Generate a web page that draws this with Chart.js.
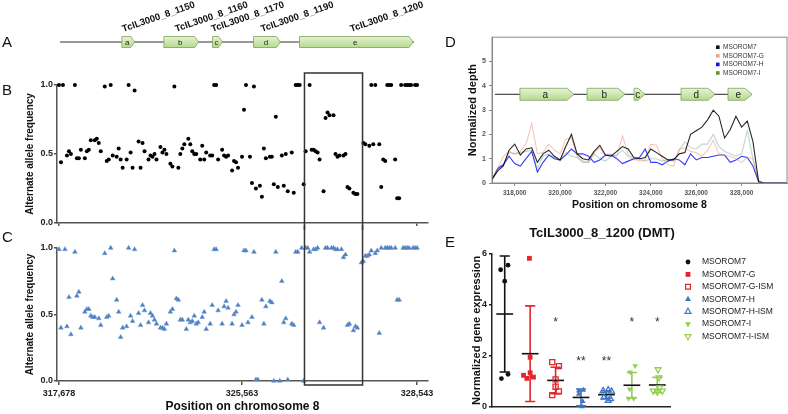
<!DOCTYPE html>
<html lang="en">
<head>
<meta charset="UTF-8">
<title>TcIL3000 chromosome 8</title>
<script src="https://cdn.jsdelivr.net/npm/chart.js"></script>
<style>
  body { margin: 0; background: #fff; }
  #fig { position: relative; width: 788px; height: 414px; overflow: hidden; font-family: 'Liberation Sans', Arial, sans-serif; }
  #fig canvas { position: absolute; }
  .lbl { position: absolute; font-size: 15px; color: #111; line-height: 17px; }
</style>
</head>
<body>
<div id="fig">
  <canvas id="chartA" width="440" height="60" style="left:0;top:0"></canvas>
  <canvas id="chartC" width="440" height="189" style="left:0;top:225px"></canvas>
  <canvas id="chartB" width="440" height="170" style="left:0;top:60px"></canvas>
  <canvas id="chartD" width="348" height="184" style="left:440px;top:30px"></canvas>
  <canvas id="chartE" width="348" height="194" style="left:440px;top:220px"></canvas>
  <div class="lbl" style="left:2px;top:33px">A</div>
  <div class="lbl" style="left:2px;top:81px">B</div>
  <div class="lbl" style="left:2px;top:228px">C</div>
  <div class="lbl" style="left:445px;top:33px">D</div>
  <div class="lbl" style="left:445px;top:233px">E</div>
</div>

<script>
// ---- genes ----
const geneNames = ['TcIL3000_8_1150', 'TcIL3000_8_1160', 'TcIL3000_8_1170', 'TcIL3000_8_1190', 'TcIL3000_8_1200'];
const geneLetters = ['a', 'b', 'c', 'd', 'e'];
// panel A schematic, in the SNP-rank units of panels B and C
const aGeneStart = [31.6, 52.7, 77.2, 97.8, 120.9];
const aGeneEnd = [38.1, 70.2, 82.2, 111.3, 178.0];
const aLineSpan = [0.5, 178.5];
// panel D, bp
const dGeneStart = [318230, 321190, 323260, 325330, 327400];
const dGeneEnd = [320610, 322860, 323740, 326830, 328460];
const dLineSpan = [317130, 328460];

// ---- panels B / C: SNPs ranked along the region ----
const rankMin = -1, rankMax = 185.5;
const cTickRanks = [0, 92, 180];
const cTickLabels = ['317,678', '325,563', '328,543'];
const freqTicks = [0, 0.5, 1];
const boxRanks = [123.4, 152.6];

const bRank = [0,2,1,4,5,6,8,9,10,11,13,14,15,16,18,19,20,21,23,24,25,26,27,29,30,31,32,34,35,36,
  37,38,40,41,42,43,45,46,47,48,49,51,52,53,54,56,57,58,60,61,62,63,65,66,67,68,69,71,72,73,
  74,76,77,78,79,80,82,83,84,85,87,88,89,90,92,93,94,96,97,98,99,101,102,103,104,106,107,108,109,110,
  112,113,114,115,117,118,119,120,121,123,124,126,127,128,129,130,131,133,134,135,136,138,139,140,141,143,144,145,146,148,
  149,150,153,154,156,157,158,159,161,162,163,164,165,166,167,169,170,171,172,174,175,176,177,179,180];
const bFreq = [1.0,1.0,0.44,0.49,0.52,0.5,1.0,0.47,0.47,0.53,0.47,0.52,0.53,0.6,0.6,0.61,0.58,0.52,0.99,0.45,0.46,1.0,0.49,0.48,0.54,0.46,0.4,0.46,1.0,0.51,
  0.4,0.96,0.59,0.4,0.58,0.52,0.46,0.49,0.48,0.5,0.46,0.55,0.51,0.53,0.5,0.43,0.41,0.99,0.4,0.5,0.54,0.57,0.61,0.57,0.52,0.5,0.5,0.46,0.56,0.46,
  0.51,0.49,0.49,1.0,1.0,0.46,0.53,0.49,0.48,0.49,0.38,0.45,0.44,0.4,0.48,0.82,1.0,0.48,0.29,0.99,0.25,0.27,0.19,0.54,0.47,0.48,0.48,0.28,0.77,0.26,
  0.49,0.27,0.5,0.23,0.51,0.22,1.0,1.0,1.0,0.28,0.52,1.0,0.53,0.53,0.52,0.51,0.46,0.23,0.76,0.8,0.78,0.78,0.5,0.48,0.49,0.49,0.5,0.26,0.25,0.22,
  0.21,0.21,0.58,0.57,0.56,1.0,0.57,1.0,0.57,0.26,0.46,0.45,1.0,1.0,1.0,0.46,0.18,0.18,1.0,1.0,1.0,1.0,1.0,1.0,1.0];

const cRank = [0,1,3,4,5,6,8,9,10,11,13,14,15,16,17,18,20,21,23,24,25,26,27,29,30,31,32,34,35,36,
  37,38,40,41,42,43,45,46,47,48,49,51,52,53,54,56,57,58,59,60,61,62,64,65,66,67,68,69,70,72,
  73,74,76,77,78,79,80,82,83,84,85,87,88,89,90,92,93,94,95,97,98,99,100,102,103,104,106,107,108,109,
  111,112,113,114,115,117,118,119,120,122,123,124,125,126,128,129,130,131,133,134,135,137,138,139,140,142,143,144,145,146,
  148,149,150,152,153,154,155,156,157,159,160,161,162,164,165,166,167,169,170,171,173,174,175,176,178,179,180];
const cFreq = [0.99,0.4,0.99,0.41,0.63,0.35,0.97,0.64,0.67,0.4,0.52,0.54,0.54,0.49,0.48,0.48,0.47,0.42,0.96,0.48,0.49,1.0,0.77,0.61,0.52,0.33,0.4,0.41,1.0,0.49,
  0.45,0.99,0.51,0.42,0.57,0.53,0.44,0.51,0.49,0.46,0.43,0.4,0.4,0.39,0.43,0.52,0.54,0.98,0.62,0.61,0.46,0.46,0.39,0.46,0.44,0.45,0.49,0.43,0.44,0.48,
  0.52,0.39,0.43,0.57,0.99,0.99,0.53,0.43,0.56,0.6,0.55,0.43,0.5,0.52,0.57,0.42,0.98,0.98,0.44,0.48,0.97,0.01,0.01,0.61,0.43,0.56,0.6,0.59,0.0,0.97,
  0.0,0.75,0.44,0.47,0.01,0.43,0.42,0.97,0.97,1.0,0.0,1.0,1.0,0.97,0.99,0.99,1.0,0.44,0.4,1.0,1.0,1.0,1.0,0.99,0.99,0.99,0.93,0.95,0.42,0.43,
  0.38,0.41,0.4,0.89,0.9,0.94,0.94,0.95,0.98,0.96,0.98,0.36,1.0,1.0,1.0,1.0,1.0,1.0,0.61,0.61,1.0,1.0,1.0,1.0,1.0,1.0,1.0];

// ---- panel D: normalised read depth ----
const dNames = ['MSOROM7', 'MSOROM7-G', 'MSOROM7-H', 'MSOROM7-I'];
const dPos = [317000,317250,317500,317750,318000,318250,318500,318750,319000,319250,
  319500,319750,320000,320250,320500,320750,321000,321250,321500,321750,
  322000,322250,322500,322750,323000,323250,323500,323750,324000,324250,
  324500,324750,325000,325250,325500,325750,326000,326250,326500,326750,
  327000,327250,327500,327750,328000,328250,328500,328750,329000,330000];
const dBlack = [0.15,0.5,0.7,1.35,1.6,1.15,1.4,1.45,0.85,1.2, 1.35,1.1,0.95,1.5,2.0,1.2,1.0,0.95,1.3,1.55,
  1.15,1.1,1.3,1.5,1.4,1.05,1.0,1.05,1.4,1.25, 1.1,0.95,0.95,1.2,1.25,2.0,2.15,2.3,2.6,3.0,
  2.75,1.85,2.2,2.75,2.3,2.55,1.7,0.05,0,0];
const dG = [0.15,0.6,1.1,1.3,1.2,1.3,1.6,2.45,1.2,1.25, 1.6,1.35,1.2,1.8,1.85,1.1,0.9,0.85,1.25,1.45,
  1.1,1.2,1.1,1.95,1.2,1.0,0.9,0.95,1.6,1.55, 1.0,0.75,0.7,1.4,1.45,1.3,1.25,1.1,1.35,1.75,
  1.2,1.15,1.1,1.0,0.85,1.05,1.0,0.1,0,0];
const dH = [0.15,0.6,0.75,1.1,0.8,0.7,1.0,1.3,0.45,0.85, 1.15,1.0,0.95,1.15,1.4,1.2,1.2,1.1,0.85,0.95,
  1.15,1.15,1.0,0.8,0.9,1.0,1.05,1.4,0.85,0.85, 0.75,0.9,1.0,0.95,0.75,1.2,0.95,1.05,1.05,1.1,
  1.15,1.15,0.85,0.95,1.1,1.05,0.7,0.05,0,0];
const dI = [0.15,0.55,0.8,1.25,1.2,1.25,1.3,1.35,0.6,1.1, 1.2,1.05,0.9,1.25,1.1,1.05,0.85,0.85,1.2,1.0,
  0.9,1.1,1.15,1.35,1.1,0.95,1.0,0.9,1.0,1.0, 0.9,0.95,0.9,1.35,1.7,1.45,1.4,1.6,1.6,2.0,
  1.5,1.3,1.2,1.1,1.2,2.15,1.0,0.05,0,0];
const dXTicks = [318000, 320000, 322000, 324000, 326000, 328000];
const dYTicks = [0, 1, 2, 3, 4, 5];
const dTrackY = 3.65;

// ---- panel E: qPCR ----
const eGroups = ['MSOROM7', 'MSOROM7-G', 'MSOROM7-G-ISM', 'MSOROM7-H', 'MSOROM7-H-ISM', 'MSOROM7-I', 'MSOROM7-I-ISM'];
const eValues = [[5.38,4.93,5.56,1.1,1.27], [5.83,1.94,1.23,1.11,1.33,1.16], [1.75,1.59,1.07,0.78,0.6,0.45],
  [0.62,0.65,0.49,0.2,0.0], [0.62,0.65,0.6,0.36,0.23,0.3], [1.6,1.36,0.69,0.32,0.32], [1.46,1.14,0.62,0.58,0.62,0.75]];
const eJitter = [[-0.16,0,0.13,-0.13,0.13], [-0.03,0,-0.26,-0.13,0,0.13], [-0.13,0.13,0,0,0.13,-0.13],
  [-0.09,0.09,-0.09,0.07,0.04], [-0.13,0.07,0.2,-0.1,0.07,0.16], [0.13,-0.07,-0.09,-0.13,0.07], [0.03,0.07,-0.16,0,0.2,0.09]];
const eMean = [3.64, 2.08, 1.03, 0.36, 0.47, 0.84, 0.85];
const eSD = [2.28, 1.88, 0.52, 0.33, 0.15, 0.5, 0.3];
const eStars = ['', '', '*', '**', '**', '*', '*'];
const eStarY = [0, 0, 3.47, 1.94, 1.94, 3.47, 3.47];
const eYTicks = [0, 2, 4, 6];

const FONT = "'Liberation Sans', Arial, sans-serif";
Chart.defaults.font.family = FONT;
Chart.defaults.color = '#222';
Chart.defaults.animation = false;
Chart.defaults.plugins.legend.display = false;
Chart.defaults.plugins.tooltip.enabled = false;

const eColor = ['#111', '#e3262a', '#e3262a', '#4174c2', '#4174c2', '#92cf50', '#92cf50'];
const eStyle = ['circle', 'rect', 'rect', 'triangle', 'triangle', 'triangle', 'triangle'];
const eFilled = [true, true, false, true, false, true, false];
const eRot = [0, 0, 0, 0, 0, 180, 180];
const eRadius = [2.4, 3.4, 3.6, 3.2, 3.4, 3.2, 3.4];

function drawGene(ctx, x0, x1, yc, h, tip, letter, fontSize) {
  const g = ctx.createLinearGradient(0, yc - h / 2, 0, yc + h / 2);
  g.addColorStop(0, '#e6f3d4');
  g.addColorStop(1, '#b6d98e');
  ctx.beginPath();
  ctx.moveTo(x0, yc - h / 2);
  ctx.lineTo(x1 - tip, yc - h / 2);
  ctx.lineTo(x1, yc);
  ctx.lineTo(x1 - tip, yc + h / 2);
  ctx.lineTo(x0, yc + h / 2);
  ctx.closePath();
  ctx.fillStyle = g;
  ctx.fill();
  ctx.strokeStyle = '#7ea35c';
  ctx.lineWidth = 0.8;
  ctx.stroke();
  ctx.fillStyle = '#222';
  ctx.font = fontSize + 'px ' + FONT;
  ctx.textAlign = 'center';
  ctx.textBaseline = 'middle';
  ctx.fillText(letter, (x0 + x1 - tip / 2) / 2, yc + 0.5);
}

function marker(ctx, style, filled, color, x, y, r, rot) {
  ctx.beginPath();
  if (style === 'circle') {
    ctx.arc(x, y, r, 0, Math.PI * 2);
  } else if (style === 'rect') {
    const s = r * Math.SQRT1_2;
    ctx.rect(x - s, y - s, 2 * s, 2 * s);
  } else {
    const d = rot ? -1 : 1;
    ctx.moveTo(x, y - d * r);
    ctx.lineTo(x + r * 0.87, y + d * r * 0.5);
    ctx.lineTo(x - r * 0.87, y + d * r * 0.5);
    ctx.closePath();
  }
  if (filled) { ctx.fillStyle = color; ctx.fill(); }
  else { ctx.strokeStyle = color; ctx.lineWidth = 1.2; ctx.stroke(); }
}

// ---- A: gene track ----
new Chart('chartA', {
  type: 'scatter',
  data: { datasets: [] },
  options: {
    responsive: false, devicePixelRatio: 1,
    layout: { padding: { left: 57, right: 12, top: 0, bottom: 0 } },
    scales: {
      x: { type: 'linear', min: rankMin, max: rankMax, display: false },
      y: { min: 0, max: 1, display: false }
    }
  },
  plugins: [{
    id: 'genesA',
    afterDraw(chart) {
      const { ctx, scales: { x, y } } = chart;
      const yc = y.getPixelForValue(0.3);
      ctx.save();
      ctx.strokeStyle = '#333';
      ctx.lineWidth = 1;
      ctx.beginPath();
      ctx.moveTo(x.getPixelForValue(aLineSpan[0]), yc);
      ctx.lineTo(x.getPixelForValue(aLineSpan[1]), yc);
      ctx.stroke();
      geneNames.forEach((name, i) => {
        const x0 = x.getPixelForValue(aGeneStart[i]);
        const x1 = x.getPixelForValue(aGeneEnd[i]);
        drawGene(ctx, x0, x1, yc, 11, 4, geneLetters[i], 8);
        ctx.save();
        ctx.translate((x0 + x1) / 2 - 5, yc - 10);
        ctx.rotate(-19 * Math.PI / 180);
        ctx.font = 'bold 9.5px ' + FONT;
        ctx.fillStyle = '#111';
        ctx.textAlign = 'left';
        ctx.textBaseline = 'alphabetic';
        ctx.fillText(name, 0, 0);
        ctx.restore();
      });
      ctx.restore();
    }
  }]
});

// ---- B / C: allele frequency ----
function snpBox(part) {
  return {
    id: 'snpBox' + part,
    afterDatasetsDraw(chart) {
      const { ctx, chartArea, scales: { x } } = chart;
      const x0 = x.getPixelForValue(boxRanks[0]);
      const x1 = x.getPixelForValue(boxRanks[1]);
      ctx.save();
      ctx.lineWidth = 1.5;
      ctx.strokeStyle = '#333';
      ctx.beginPath();
      if (part === 'top') {
        const t = chartArea.top - 12;
        ctx.moveTo(x0, chart.height); ctx.lineTo(x0, t); ctx.lineTo(x1, t); ctx.lineTo(x1, chart.height);
      } else {
        const b = chartArea.bottom + 4;
        ctx.moveTo(x0, 0); ctx.lineTo(x0, b); ctx.lineTo(x1, b); ctx.lineTo(x1, 0);
      }
      ctx.stroke();
      ctx.restore();
    }
  };
}

function freqY(titleText) {
  return {
    min: 0, max: 1,
    afterBuildTicks(s) { s.ticks = freqTicks.map(v => ({ value: v })); },
    ticks: { autoSkip: false, callback: v => Number(v).toFixed(1), font: { size: 9, weight: 'bold' }, padding: 1, color: '#222' },
    grid: { drawOnChartArea: false, tickLength: 3, color: '#555', lineWidth: 1.5 },
    border: { color: '#555', width: 1.5 },
    title: { display: true, text: titleText, font: { size: 10, weight: 'bold' }, color: '#111', padding: { top: 24, bottom: 0 } },
    afterFit(s) { s.width = 57; }
  };
}

new Chart('chartB', {
  type: 'scatter',
  data: {
    datasets: [{
      data: bRank.map((r, i) => ({ x: r, y: bFreq[i] })),
      pointRadius: 2, backgroundColor: '#000', borderColor: '#000', borderWidth: 0, clip: false
    }]
  },
  options: {
    responsive: false, devicePixelRatio: 1,
    layout: { padding: { top: 25, right: 12, left: 0, bottom: 0 } },
    scales: {
      x: {
        type: 'linear', min: rankMin, max: rankMax,
        afterBuildTicks(s) { s.ticks = [cTickRanks[0], cTickRanks[2]].map(v => ({ value: v })); },
        ticks: { display: false, autoSkip: false },
        grid: { drawOnChartArea: false, tickLength: 3, color: '#555', lineWidth: 1.5 },
        border: { color: '#555', width: 1.5 },
        afterFit(s) { s.height = 7; }
      },
      y: freqY('Alternate allele frequency')
    }
  },
  plugins: [snpBox('top')]
});

new Chart('chartC', {
  type: 'scatter',
  data: {
    datasets: [{
      data: cRank.map((r, i) => ({ x: r, y: cFreq[i] })),
      pointStyle: 'triangle', pointRadius: 2.7,
      backgroundColor: '#4a7dc0', borderColor: '#6f97cf', borderWidth: 0.5, clip: false
    }]
  },
  options: {
    responsive: false, devicePixelRatio: 1,
    layout: { padding: { top: 23, right: 12, left: 0, bottom: 0 } },
    scales: {
      x: {
        type: 'linear', min: rankMin, max: rankMax,
        afterBuildTicks(s) { s.ticks = cTickRanks.map(v => ({ value: v })); },
        ticks: { autoSkip: false, maxRotation: 0, callback: (v, i) => cTickLabels[i], font: { size: 9, weight: 'bold' }, padding: 3, color: '#222' },
        grid: { drawOnChartArea: false, tickLength: 4, color: '#555', lineWidth: 1.5 },
        border: { color: '#555', width: 1.5 },
        title: { display: true, text: 'Position on chromosome 8', font: { size: 12, weight: 'bold' }, color: '#111', padding: { top: 0, bottom: 0 } },
        afterFit(s) { s.height = 33; }
      },
      y: freqY('Alternate allele frequency')
    }
  },
  plugins: [snpBox('bottom')]
});

// ---- D: read depth ----
const dColors = ['rgba(0,0,0,0.85)', 'rgba(240,140,120,0.5)', 'rgba(20,20,255,0.85)', 'rgba(120,180,150,0.5)'];
const dKey = ['#111', '#e9a39a', '#1010ff', '#6e8e32'];
const dSeries = [dBlack, dG, dH, dI];

new Chart('chartD', {
  type: 'line',
  data: {
    datasets: dSeries.map((s, k) => ({
      label: dNames[k],
      data: dPos.map((p, i) => ({ x: p, y: s[i] })),
      borderColor: dColors[k], borderWidth: 1.1, pointRadius: 0, tension: 0, fill: false
    }))
  },
  options: {
    responsive: false, devicePixelRatio: 1,
    layout: { padding: { top: 5, right: 1, left: 0, bottom: 0 } },
    scales: {
      x: {
        type: 'linear', min: 317000, max: 330000,
        afterBuildTicks(s) { s.ticks = dXTicks.map(v => ({ value: v })); },
        ticks: { autoSkip: false, maxRotation: 0, callback: v => v.toLocaleString('en-US'), font: { size: 6.5, weight: 'bold' }, color: '#555', padding: 3 },
        grid: { drawOnChartArea: false, tickLength: 3, color: '#888' },
        border: { color: '#888' },
        title: { display: true, text: 'Position on chromosome 8', font: { size: 10.5, weight: 'bold' }, color: '#111', padding: { top: 0, bottom: 3 } },
        afterFit(s) { s.height = 31; }
      },
      y: {
        min: 0, max: 6,
        afterBuildTicks(s) { s.ticks = dYTicks.map(v => ({ value: v })); },
        ticks: { autoSkip: false, font: { size: 7, weight: 'bold' }, color: '#555', padding: 3 },
        grid: { drawOnChartArea: false, tickLength: 3, color: '#888' },
        border: { color: '#888' },
        title: { display: true, text: 'Normalized depth', font: { size: 11, weight: 'bold' }, color: '#111', padding: { top: 26, bottom: 0 } },
        afterFit(s) { s.width = 52; }
      }
    }
  },
  plugins: [{
    id: 'depthDecor',
    afterDraw(chart) {
      const { ctx, chartArea: a, scales: { x, y } } = chart;
      ctx.save();
      ctx.strokeStyle = '#888';
      ctx.lineWidth = 1;
      ctx.strokeRect(a.left, a.top, a.right - a.left, a.bottom - a.top);
      const yc = y.getPixelForValue(dTrackY);
      ctx.strokeStyle = '#222';
      ctx.beginPath();
      ctx.moveTo(x.getPixelForValue(dLineSpan[0]), yc);
      ctx.lineTo(x.getPixelForValue(dLineSpan[1]), yc);
      ctx.stroke();
      geneLetters.forEach((l, i) => {
        drawGene(ctx, x.getPixelForValue(dGeneStart[i]), x.getPixelForValue(dGeneEnd[i]), yc, 12, 7, l, 10);
      });
      ctx.font = '6.5px ' + FONT;
      ctx.textAlign = 'left';
      ctx.textBaseline = 'middle';
      dNames.forEach((n, i) => {
        const ly = a.top + 10 + i * 8.6;
        ctx.fillStyle = dKey[i];
        ctx.fillRect(a.right - 71, ly - 1.8, 3.6, 3.6);
        ctx.fillStyle = '#333';
        ctx.fillText(n, a.right - 64, ly);
      });
      ctx.restore();
    }
  }]
});

// ---- E: expression ----
new Chart('chartE', {
  type: 'scatter',
  data: {
    datasets: eGroups.map((g, i) => ({
      label: g,
      data: eValues[i].map((v, k) => ({ x: i + 1 + eJitter[i][k], y: v })),
      pointStyle: eStyle[i], rotation: eRot[i], pointRadius: eRadius[i],
      backgroundColor: eFilled[i] ? eColor[i] : 'rgba(255,255,255,0)',
      borderColor: eColor[i], borderWidth: eFilled[i] ? 0 : 1.3, clip: false
    }))
  },
  options: {
    responsive: false, devicePixelRatio: 1,
    layout: { padding: { top: 34, right: 118, left: 0, bottom: 0 } },
    scales: {
      x: {
        type: 'linear', min: 0.5, max: 7.5,
        ticks: { display: false }, grid: { display: false },
        border: { color: '#222', width: 1.5 },
        afterFit(s) { s.height = 5; }
      },
      y: {
        min: 0, max: 6,
        afterBuildTicks(s) { s.ticks = eYTicks.map(v => ({ value: v })); },
        ticks: { autoSkip: false, font: { size: 9, weight: 'bold' }, color: '#222', padding: 2 },
        grid: { drawOnChartArea: false, tickLength: 3, color: '#222', lineWidth: 1.5 },
        border: { color: '#222', width: 1.5 },
        title: { display: true, text: 'Normalized gene expression', font: { size: 11, weight: 'bold' }, color: '#111', padding: { top: 30, bottom: 0 } },
        afterFit(s) { s.width = 52; }
      }
    }
  },
  plugins: [{
    id: 'exprDecor',
    beforeDatasetsDraw(chart) {
      const { ctx, scales: { x, y } } = chart;
      ctx.save();
      ctx.lineWidth = 1.6;
      eMean.forEach((m, i) => {
        const cx = x.getPixelForValue(i + 1);
        const cap = x.getPixelForValue(i + 1.2) - cx;
        const half = x.getPixelForValue(i + 1.33) - cx;
        const top = y.getPixelForValue(m + eSD[i]);
        const bot = y.getPixelForValue(m - eSD[i]);
        ctx.strokeStyle = eColor[i];
        ctx.beginPath();
        ctx.moveTo(cx, top); ctx.lineTo(cx, bot);
        ctx.moveTo(cx - cap, top); ctx.lineTo(cx + cap, top);
        ctx.moveTo(cx - cap, bot); ctx.lineTo(cx + cap, bot);
        ctx.stroke();
        ctx.strokeStyle = '#111';
        ctx.beginPath();
        const my = y.getPixelForValue(m);
        ctx.moveTo(cx - half, my); ctx.lineTo(cx + half, my);
        ctx.stroke();
      });
      ctx.restore();
    },
    afterDraw(chart) {
      const { ctx, chartArea: a, scales: { x, y } } = chart;
      ctx.save();
      ctx.fillStyle = '#333';
      ctx.font = '12px ' + FONT;
      ctx.textAlign = 'center';
      ctx.textBaseline = 'top';
      eStars.forEach((s, i) => {
        if (s) ctx.fillText(s, x.getPixelForValue(i + 1), y.getPixelForValue(eStarY[i]) - 2);
      });
      ctx.fillStyle = '#111';
      ctx.font = 'bold 13px ' + FONT;
      ctx.textBaseline = 'middle';
      ctx.fillText('TcIL3000_8_1200 (DMT)', (a.left + a.right) / 2 + 21, 13);
      ctx.font = '8.5px ' + FONT;
      ctx.textAlign = 'left';
      eGroups.forEach((g, i) => {
        const ly = a.top + 8 + i * 12.4;
        marker(ctx, eStyle[i], eFilled[i], eColor[i], a.right + 18, ly, eStyle[i] === 'circle' ? 2.4 : 3.4, eRot[i]);
        ctx.fillStyle = '#222';
        ctx.fillText(g, a.right + 32, ly);
      });
      ctx.restore();
    }
  }]
});
</script>
</body>
</html>
